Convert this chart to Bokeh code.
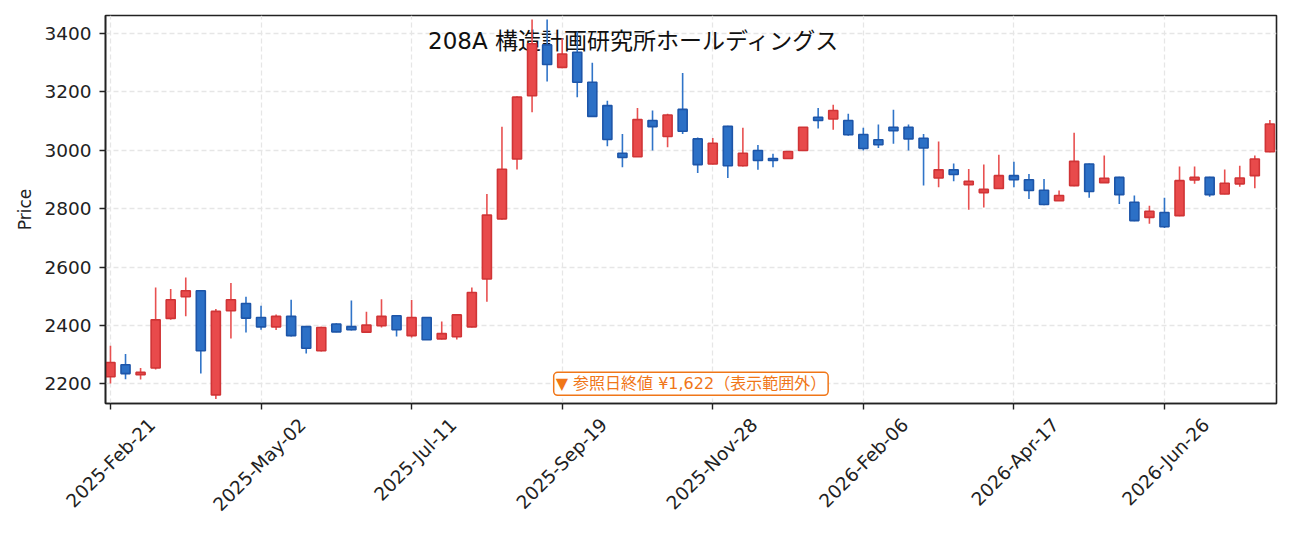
import math
import pandas as pd
from bokeh.plotting import figure
from bokeh.models import (Range1d, FixedTicker, Label, ColumnDataSource,
                          CustomJSTickFormatter, DatetimeAxis)
from bokeh.core.properties import value
from bokeh.embed import file_html
from bokeh.resources import INLINE

# ---------------- data ----------------
start_date = "2025-02-21"
dates = pd.date_range(start_date, periods=78, freq="7D")

opens = [2224, 2265, 2231, 2254, 2424, 2498, 2519, 2162, 2450, 2475,
         2427, 2395, 2431, 2396, 2313, 2405, 2396, 2377, 2399, 2433,
         2365, 2427, 2354, 2361, 2395, 2559, 2765, 2970, 3187, 3361,
         3284, 3336, 3233, 3153, 2990, 2978, 3102, 3047, 3140, 3039,
         2953, 3082, 2947, 2999, 2972, 2972, 2999, 3113, 3107, 3102,
         3054, 3036, 3079, 3079, 3041, 2905, 2933, 2882, 2855, 2869,
         2913, 2899, 2863, 2827, 2879, 2953, 2889, 2907, 2822, 2770,
         2787, 2776, 2898, 2907, 2850, 2885, 2913, 2995]
highs = [2330, 2302, 2254, 2530, 2525, 2564, 2520, 2456, 2545, 2498,
         2467, 2437, 2488, 2398, 2395, 2407, 2485, 2447, 2490, 2435,
         2487, 2429, 2413, 2438, 2530, 2850, 3081, 3185, 3448, 3448,
         3384, 3407, 3300, 3170, 3056, 3145, 3136, 3125, 3265, 3044,
         3042, 3084, 3077, 3018, 2988, 2997, 3080, 3145, 3156, 3125,
         3077, 3088, 3139, 3088, 3056, 3030, 2955, 2936, 2951, 2985,
         2961, 2919, 2902, 2862, 3060, 2955, 2982, 2909, 2845, 2810,
         2837, 2944, 2944, 2909, 2934, 2947, 2982, 3104]
lows = [2201, 2216, 2215, 2249, 2419, 2431, 2235, 2148, 2355, 2376,
        2385, 2384, 2362, 2304, 2311, 2377, 2383, 2376, 2393, 2362,
        2359, 2350, 2352, 2352, 2393, 2481, 2762, 2934, 3130, 3236,
        3281, 3182, 3114, 3014, 2942, 2977, 2999, 3010, 3056, 2922,
        2951, 2905, 2944, 2933, 2942, 2970, 2998, 3075, 3070, 3050,
        2999, 3008, 3022, 2999, 2879, 2873, 2894, 2796, 2804, 2867,
        2873, 2833, 2812, 2826, 2877, 2837, 2888, 2816, 2757, 2748,
        2734, 2774, 2885, 2841, 2849, 2875, 2870, 2993]
closes = [2273, 2235, 2239, 2419, 2488, 2519, 2313, 2448, 2488, 2425,
          2395, 2431, 2365, 2322, 2393, 2378, 2385, 2401, 2431, 2385,
          2427, 2351, 2372, 2436, 2513, 2778, 2935, 3182, 3365, 3294,
          3330, 3233, 3116, 3037, 2975, 3105, 3081, 3121, 3065, 2951,
          3024, 2947, 2990, 2965, 2965, 2996, 3079, 3102, 3136, 3053,
          3006, 3019, 3067, 3039, 3008, 2933, 2917, 2894, 2866, 2913,
          2899, 2862, 2814, 2845, 2962, 2859, 2904, 2848, 2759, 2791,
          2738, 2896, 2907, 2848, 2887, 2905, 2970, 3090]

y_ticks = [2200, 2400, 2600, 2800, 3000, 3200, 3400]
x_tick_dates = ["2025-02-21", "2025-05-02", "2025-07-11", "2025-09-19",
                "2025-11-28", "2026-02-06", "2026-04-17", "2026-06-26"]
x_tick_labels = ["2025-Feb-21", "2025-May-02", "2025-Jul-11", "2025-Sep-19",
                 "2025-Nov-28", "2026-Feb-06", "2026-Apr-17", "2026-Jun-26"]

title_text = "208A 構造計画研究所ホールディングス"
note_text = "▼ 参照日終値 ¥1,622（表示範囲外）"
y_label = "Price"

# ---------------- build ----------------
MS = 86400000
WEEK = 7 * MS

def to_ms(ts):
    return pd.Timestamp(ts).value // 10**6

xs = [to_ms(d) for d in dates]
x0 = xs[0]

up_fill, up_line, up_wick = "#e84a4b", "#d03436", "#e85050"
dn_fill, dn_line, dn_wick = "#2c70c6", "#1d55a8", "#3074c8"

is_up = [c >= o for o, c in zip(opens, closes)]
src = ColumnDataSource(dict(
    x=xs,
    high=highs,
    low=lows,
    top=[max(o, c) for o, c in zip(opens, closes)],
    bottom=[min(o, c) for o, c in zip(opens, closes)],
    fill=[up_fill if u else dn_fill for u in is_up],
    line=[up_line if u else dn_line for u in is_up],
    wick=[up_wick if u else dn_wick for u in is_up],
))

FONT = "DejaVu Sans, Noto Sans CJK JP"
DARK = "#222222"

x_start = x0 - 0.33 * WEEK
x_end = x0 + 77.44 * WEEK
p = figure(
    width=1285, height=525,
    x_axis_type="datetime",
    x_range=Range1d(x_start, x_end),
    y_range=Range1d(2132.5, 3461.7),
    output_backend="svg", toolbar_location=None,
    min_border_left=105, min_border_right=9, min_border_top=15, min_border_bottom=122,
)
p.background_fill_color = "white"
p.border_fill_color = "white"
p.outline_line_color = DARK
p.outline_line_width = 1.6
p.outline_line_alpha = 1.0

tick_ms = [to_ms(d) for d in x_tick_dates]
p.xaxis.ticker = FixedTicker(ticks=tick_ms)
p.xaxis.formatter = CustomJSTickFormatter(code="return ''")
p.xaxis.major_label_text_font_size = "0px"
p.xaxis.major_label_standoff = 0
p.yaxis.ticker = FixedTicker(ticks=y_ticks)

p.axis.axis_line_color = DARK
p.axis.axis_line_width = 1.6
p.axis.major_tick_line_color = DARK
p.axis.major_tick_line_width = 1.4
p.axis.major_tick_out = 6
p.axis.major_tick_in = 0
p.axis.minor_tick_line_color = None

p.yaxis.major_label_text_font = FONT
p.yaxis.major_label_text_font_size = "18.5px"
p.yaxis.major_label_text_color = DARK
p.yaxis.major_label_standoff = 8
p.yaxis.axis_label = y_label
p.yaxis.axis_label_text_font = FONT
p.yaxis.axis_label_text_font_size = "17px"
p.yaxis.axis_label_text_font_style = "normal"
p.yaxis.axis_label_text_color = DARK
p.yaxis.axis_label_standoff = 6

p.grid.grid_line_color = "#e6e6e6"
p.grid.grid_line_dash = "5 3"
p.grid.grid_line_width = 1.3

# rotated date labels: a label-only axis on a shifted range so the
# rotated labels sit centred under the tick marks
shift = 2.76 * WEEK
p.extra_x_ranges = {"lab": Range1d(x_start - shift, x_end - shift)}
lab_axis = DatetimeAxis(
    x_range_name="lab",
    ticker=FixedTicker(ticks=tick_ms),
    formatter=CustomJSTickFormatter(args=dict(labels=x_tick_labels),
                                    code="return labels[index]"),
)
lab_axis.axis_line_color = None
lab_axis.major_tick_line_color = None
lab_axis.minor_tick_line_color = None
lab_axis.major_tick_out = 0
lab_axis.major_tick_in = 0
lab_axis.major_label_standoff = 12
lab_axis.major_label_orientation = math.pi / 4
lab_axis.major_label_text_font = FONT
lab_axis.major_label_text_font_size = "18.5px"
lab_axis.major_label_text_color = DARK
p.add_layout(lab_axis, "below")

# title inside plot, under the candles
p.text(x=[x0 + 34.77 * WEEK], y=[3373], text=[title_text],
       text_font=value(FONT), text_font_size="23px", text_color="#111111",
       text_align="center", text_baseline="middle")

p.segment(x0="x", y0="low", x1="x", y1="high", source=src,
          line_color="wick", line_width=1.6)
p.vbar(x="x", width=0.6 * WEEK, top="top", bottom="bottom", source=src,
       fill_color="fill", line_color="line", line_width=1.6, fill_alpha=1.0)

note = Label(x=x0 + 38.55 * WEEK, y=2200, text=note_text,
             text_font=FONT, text_font_size="16px", text_color="#f07618",
             text_align="center", text_baseline="middle",
             background_fill_color="white", background_fill_alpha=1.0,
             border_line_color="#f07618", border_line_width=1.5,
             border_radius=4, padding=2)
p.add_layout(note)

open("out.html", "w").write(file_html(p, INLINE))
